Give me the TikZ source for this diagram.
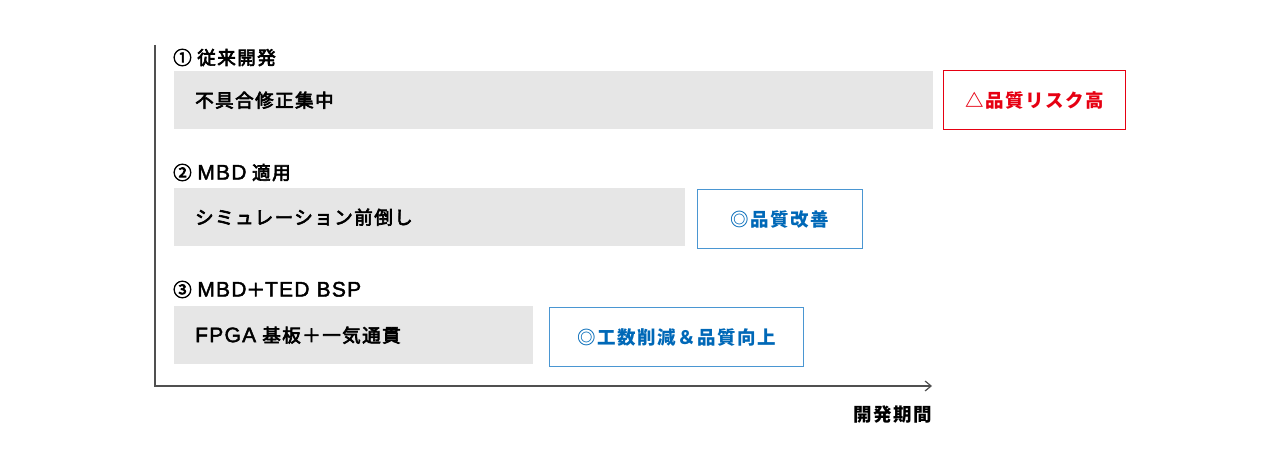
\documentclass[tikz,border=0pt]{standalone}
\usepackage{fontspec}
\setmainfont{Noto Sans CJK JP}[LetterSpace=8]
\newfontfamily\jpmed{Noto Sans CJK JP}[LetterSpace=8, FakeBold=3.5]
\newfontfamily\latmed{Liberation Sans}[LetterSpace=6, FakeBold=2]
\newcommand\lat[1]{{\latmed\fontsize{21}{21}\selectfont #1}}
\usetikzlibrary{arrows.meta}
\definecolor{barfill}{RGB}{230,230,230}
\definecolor{riskred}{RGB}{230,0,18}
\definecolor{goodblue}{RGB}{0,104,183}
\definecolor{goodline}{RGB}{74,150,210}
\definecolor{axisgray}{RGB}{80,80,80}
\tikzset{
  stage/.style={anchor=west, inner sep=0pt, font=\jpmed\fontsize{18.5}{18.5}\selectfont},
  bar/.style={fill=barfill, anchor=north west, minimum height=58pt, inner xsep=21pt,
    inner ysep=0pt, align=left, font=\jpmed\fontsize{18.5}{18.5}\selectfont},
  riskbox/.style={draw=riskred, text=riskred, line width=1pt, anchor=north west,
    minimum height=59pt, inner sep=0pt, font=\bfseries\fontsize{18.5}{18.5}\selectfont},
  goodbox/.style={draw=goodline, text=goodblue, line width=1pt, anchor=north west,
    minimum height=59pt, inner sep=0pt, font=\bfseries\fontsize{18.5}{18.5}\selectfont},
  axis/.style={draw=axisgray, line width=1.2pt}
}
\begin{document}
\begin{tikzpicture}[x=1pt,y=-1pt]
  \useasboundingbox (0,0) rectangle (1280,476);
  % stages
  \draw
    (173,57.5) node[stage] (s1) {① 従来開発}
    (173,172.5) node[stage] (s2) {② \lat{MBD} 適用}
    (173,289.5) node[stage] (s3) {③ \lat{MBD}＋\lat{TED BSP}};
  % bars
  \node[bar, text width=717pt] (b1) at (174,71) {不具合修正集中};
  \node[bar, text width=469pt] (b2) at (174,188) {シミュレーション前倒し};
  \node[bar, text width=317pt] (b3) at (174,306) {\lat{FPGA} 基板＋一気通貫};
  % results
  \node[riskbox, minimum width=182pt] (r1) at (943,70) {△品質リスク高};
  \node[goodbox, minimum width=165pt] (r2) at (697,189) {◎品質改善};
  \node[goodbox, minimum width=254pt] (r3) at (549,307) {◎工数削減＆品質向上};
  % axes
  \coordinate (top) at (155,45);
  \coordinate (o) at (155,386);
  \coordinate (xend) at (932,386);
  \draw[axis, -{Straight Barb[length=6pt,width=10pt]}] (top) -- (o) -- (xend);
  \node[anchor=east, inner sep=0pt, font=\bfseries\fontsize{18.5}{18.5}\selectfont] (xlab) at (932,415) {開発期間};
\end{tikzpicture}
\end{document}
